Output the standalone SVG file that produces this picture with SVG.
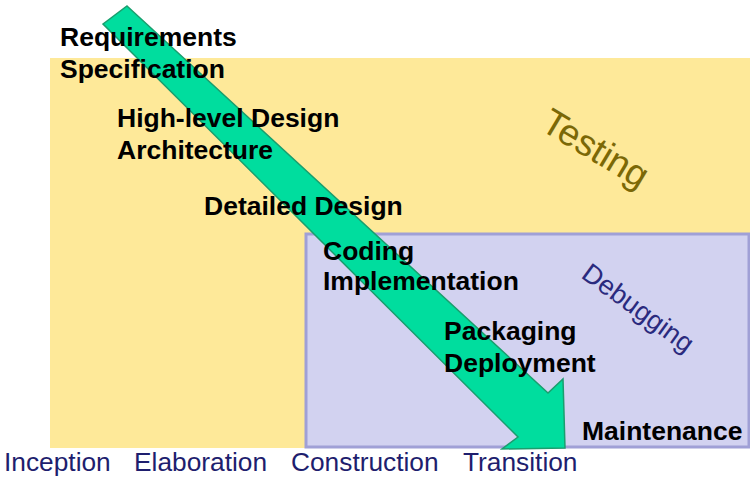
<svg xmlns="http://www.w3.org/2000/svg" width="750" height="484" viewBox="0 0 750 484">
<style>
.lbl{font-family:"Liberation Sans",Arial,sans-serif;font-weight:bold;font-size:26.5px;fill:#000}
.ph{font-family:"Liberation Sans",Arial,sans-serif;font-size:26.3px;fill:#1e1e6e}
</style>
<rect x="0" y="0" width="750" height="484" fill="#ffffff"/>
<g id="testing">
<rect x="50" y="58" width="700" height="390" fill="#fee999"/>
<text transform="translate(539,129) rotate(31)" font-family="Liberation Sans, Arial, sans-serif" font-size="37" fill="#7b6806">Testing</text>
</g>
<g id="debugging">
<rect x="306" y="234" width="443" height="213" fill="#d2d2f0" stroke="#a0a0d6" stroke-width="3"/>
<text transform="translate(580,277) rotate(36)" font-family="Liberation Sans, Arial, sans-serif" font-size="27" fill="#2a2a7e">Debugging</text>
</g>
<g id="connectors">
<polygon points="127,6 548,393 563,379 565,448 502,449 518,437 103,24" fill="#00dd9e" stroke="#1a9e6e" stroke-width="1.5" stroke-linejoin="miter"/>
</g>
<g id="requirements"><text class="lbl" x="60" y="46">Requirements</text><text class="lbl" x="60" y="78">Specification</text></g>
<g id="highlevel"><text class="lbl" x="117" y="127">High-level Design</text><text class="lbl" x="117" y="159">Architecture</text></g>
<g id="detailed"><text class="lbl" x="204" y="215">Detailed Design</text></g>
<g id="coding"><text class="lbl" x="323" y="260">Coding</text><text class="lbl" x="323" y="290">Implementation</text></g>
<g id="packaging"><text class="lbl" x="444" y="340">Packaging</text><text class="lbl" x="444" y="372">Deployment</text></g>
<g id="maintenance"><text class="lbl" x="582" y="440">Maintenance</text></g>
<g id="phases">
<text class="ph" x="4" y="471">Inception</text>
<text class="ph" x="134" y="471">Elaboration</text>
<text class="ph" x="291" y="471">Construction</text>
<text class="ph" x="463" y="471">Transition</text>
</g>
</svg>
